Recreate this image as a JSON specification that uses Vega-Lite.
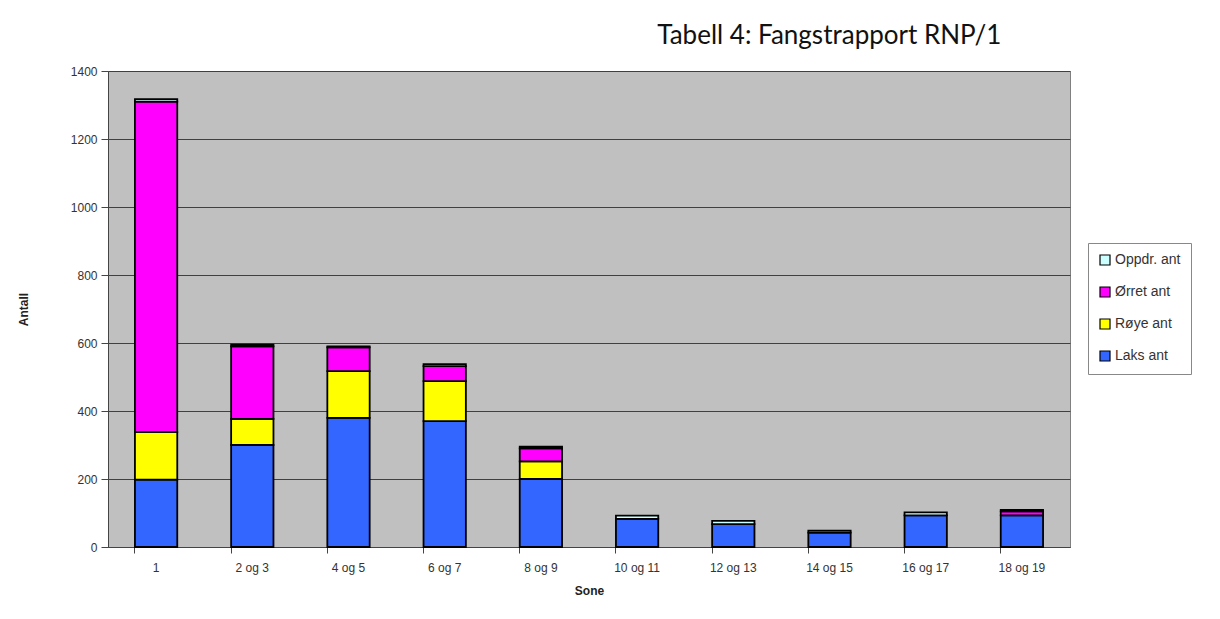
{
  "$schema": "https://vega.github.io/schema/vega-lite/v6.json",
  "width": 962,
  "height": 476,
  "autosize": "none",
  "padding": {"left": 108, "top": 71, "right": 150, "bottom": 72},
  "background": "white",
  "title": {
    "text": "Tabell 4: Fangstrapport RNP/1",
    "anchor": "start",
    "dx": 640,
    "offset": 16,
    "font": "Lato",
    "fontSize": 26,
    "fontWeight": "normal",
    "color": "#111111"
  },
  "config": {
    "view": {"fill": "#C0C0C0", "stroke": "#808080", "strokeWidth": 1},
    "axis": {
      "labelFont": "Liberation Sans",
      "titleFont": "Liberation Sans",
      "labelFontSize": 12,
      "titleFontSize": 12,
      "labelColor": "#333333",
      "titleColor": "#222222",
      "domainColor": "#444444",
      "tickColor": "#444444"
    }
  },
  "data": {
    "values": [
      {"sone": "1", "art": "Laks ant", "o": 1, "antall": 198},
      {"sone": "1", "art": "Røye ant", "o": 2, "antall": 140},
      {"sone": "1", "art": "Ørret ant", "o": 3, "antall": 972},
      {"sone": "1", "art": "Oppdr. ant", "o": 4, "antall": 7},
      {"sone": "2 og 3", "art": "Laks ant", "o": 1, "antall": 300},
      {"sone": "2 og 3", "art": "Røye ant", "o": 2, "antall": 77},
      {"sone": "2 og 3", "art": "Ørret ant", "o": 3, "antall": 213},
      {"sone": "2 og 3", "art": "Oppdr. ant", "o": 4, "antall": 5},
      {"sone": "4 og 5", "art": "Laks ant", "o": 1, "antall": 380},
      {"sone": "4 og 5", "art": "Røye ant", "o": 2, "antall": 137},
      {"sone": "4 og 5", "art": "Ørret ant", "o": 3, "antall": 70},
      {"sone": "4 og 5", "art": "Oppdr. ant", "o": 4, "antall": 3},
      {"sone": "6 og 7", "art": "Laks ant", "o": 1, "antall": 370},
      {"sone": "6 og 7", "art": "Røye ant", "o": 2, "antall": 118},
      {"sone": "6 og 7", "art": "Ørret ant", "o": 3, "antall": 44},
      {"sone": "6 og 7", "art": "Oppdr. ant", "o": 4, "antall": 6},
      {"sone": "8 og 9", "art": "Laks ant", "o": 1, "antall": 200},
      {"sone": "8 og 9", "art": "Røye ant", "o": 2, "antall": 52},
      {"sone": "8 og 9", "art": "Ørret ant", "o": 3, "antall": 38},
      {"sone": "8 og 9", "art": "Oppdr. ant", "o": 4, "antall": 5},
      {"sone": "10 og 11", "art": "Laks ant", "o": 1, "antall": 83},
      {"sone": "10 og 11", "art": "Oppdr. ant", "o": 4, "antall": 9},
      {"sone": "12 og 13", "art": "Laks ant", "o": 1, "antall": 67},
      {"sone": "12 og 13", "art": "Oppdr. ant", "o": 4, "antall": 10},
      {"sone": "14 og 15", "art": "Laks ant", "o": 1, "antall": 42},
      {"sone": "14 og 15", "art": "Oppdr. ant", "o": 4, "antall": 6},
      {"sone": "16 og 17", "art": "Laks ant", "o": 1, "antall": 93},
      {"sone": "16 og 17", "art": "Oppdr. ant", "o": 4, "antall": 9},
      {"sone": "18 og 19", "art": "Laks ant", "o": 1, "antall": 93},
      {"sone": "18 og 19", "art": "Ørret ant", "o": 3, "antall": 12},
      {"sone": "18 og 19", "art": "Oppdr. ant", "o": 4, "antall": 4}
    ]
  },
  "mark": {"type": "bar", "stroke": "#000000", "strokeWidth": 1.8},
  "encoding": {
    "x": {
      "field": "sone",
      "type": "nominal",
      "sort": ["1", "2 og 3", "4 og 5", "6 og 7", "8 og 9", "10 og 11", "12 og 13", "14 og 15", "16 og 17", "18 og 19"],
      "scale": {"paddingInner": 0.56, "paddingOuter": 0.28},
      "axis": {
        "title": "Sone",
        "titleFontWeight": "bold",
        "titlePadding": 12,
        "labelAngle": 0,
        "labelPadding": 9,
        "bandPosition": 0,
        "tickSize": 6,
        "grid": false
      }
    },
    "y": {
      "field": "antall",
      "type": "quantitative",
      "stack": "zero",
      "scale": {"domain": [0, 1400], "nice": false},
      "axis": {
        "title": "Antall",
        "titleFontWeight": "bold",
        "titlePadding": 40,
        "values": [0, 200, 400, 600, 800, 1000, 1200, 1400],
        "format": "d",
        "grid": true,
        "gridColor": "#404040",
        "gridWidth": 1,
        "tickSize": 7,
        "labelPadding": 4
      }
    },
    "color": {
      "field": "art",
      "type": "nominal",
      "scale": {
        "domain": ["Oppdr. ant", "Ørret ant", "Røye ant", "Laks ant"],
        "range": ["#CCFFFF", "#FF00FF", "#FFFF00", "#3366FF"]
      },
      "legend": {
        "title": null,
        "orient": "none",
        "legendX": 980,
        "legendY": 172,
        "symbolType": "square",
        "symbolSize": 100,
        "symbolStrokeColor": "#000000",
        "symbolStrokeWidth": 1.2,
        "labelFont": "Liberation Sans",
        "labelFontSize": 14,
        "labelColor": "#333333",
        "rowPadding": 16,
        "padding": 10,
        "fillColor": "white",
        "strokeColor": "#888888",
        "labelOffset": 3
      }
    },
    "order": {"field": "o", "type": "quantitative"}
  }
}
